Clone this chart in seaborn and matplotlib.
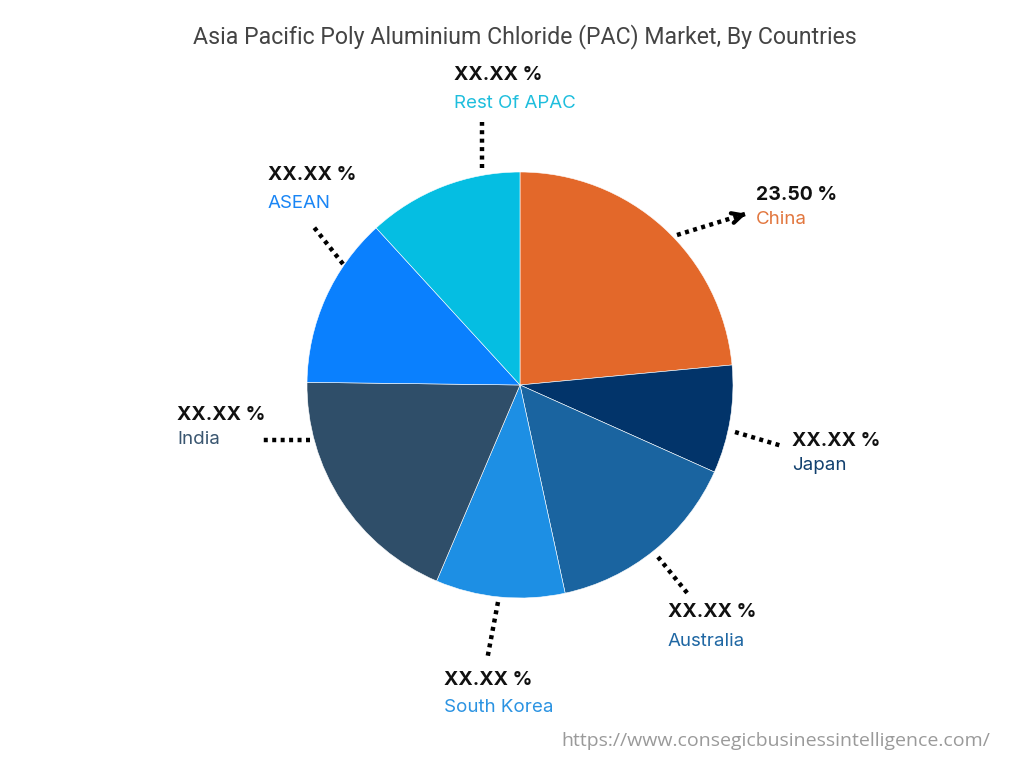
import matplotlib
matplotlib.use("Agg")
import matplotlib.pyplot as plt
import seaborn as sns

# Data (shares in %, only China is labelled)
countries = ['China', 'Japan', 'Australia', 'South Korea', 'India', 'ASEAN', 'Rest Of APAC']
shares = [23.5, 8.2, 14.9, 9.8, 18.8, 13.0, 11.8]
value_labels = ['23.50 %', 'XX.XX %', 'XX.XX %', 'XX.XX %', 'XX.XX %', 'XX.XX %', 'XX.XX %']
slice_colors = ['#E3682A', '#02346A', '#1A64A0', '#1D8FE4', '#2F4E69', '#0A80FE', '#05BEE2']
text_colors = ['#E2773F', '#12406E', '#1F67A3', '#2B93E2', '#3A5670', '#1985F5', '#1EBEDD']

sns.set_theme(style="white")
plt.rcParams['font.family'] = ['Inter', 'DejaVu Sans']

fig = plt.figure(figsize=(10.24, 7.68), dpi=100)
ax = fig.add_axes([0, 0, 1, 1])

# pie drawn in flipped axes -> counterclock=True renders clockwise on screen
ax.pie(shares, colors=slice_colors, startangle=-90, counterclock=True,
       center=(520, 385), radius=213, frame=True,
       wedgeprops=dict(edgecolor='white', linewidth=0.4))
ax.set_xlim(0, 1024)
ax.set_ylim(768, 0)
ax.axis('off')

# label layout: (text x, pct y, name y, leader start, leader end, arrow)
layout = {
    'China': (756, 195, 220, (677, 235), (745, 214), True),
    'Japan': (792, 441, 466, (735, 432), (782, 446), False),
    'Australia': (668, 612, 641, (658, 557), (688, 594), False),
    'South Korea': (444, 680, 707, (498, 602), (487, 660), False),
    'India': (177, 415, 439, (310, 440), (262, 440), False),
    'ASEAN': (268, 175, 203, (343, 264), (313, 226), False),
    'Rest Of APAC': (454, 75, 103, (482, 168), (482, 122), False),
}

for name, pct, tcol in zip(countries, value_labels, text_colors):
    tx, py, ny, p0, p1, arrow = layout[name]
    ax.text(tx, py, pct, fontsize=14, fontweight='bold', color='#111111',
            ha='left', va='center')
    ax.text(tx, ny, name, fontsize=13.5, color=tcol, ha='left', va='center')
    ax.plot([p0[0], p1[0]], [p0[1], p1[1]], color='black', lw=3.2,
            linestyle=(0, (0.9, 1.0)), solid_capstyle='butt')
    if arrow:
        ax.annotate('', xy=(p1[0] + 4, p1[1] - 1), xytext=(p1[0] - 6, p1[1] + 2),
                    arrowprops=dict(arrowstyle='->', color='black', lw=3,
                                    mutation_scale=18))

ax.text(525, 37, 'Asia Pacific Poly Aluminium Chloride (PAC) Market, By Countries',
        fontsize=16.7, color='#444444', ha='center', va='center',
        family=['Roboto', 'DejaVu Sans'])
ax.text(990, 741, 'https://www.consegicbusinessintelligence.com/',
        fontsize=14, color='#9a9a9a', ha='right', va='center',
        family=['Open Sans', 'DejaVu Sans'])

fig.savefig('out.png', dpi=100)
